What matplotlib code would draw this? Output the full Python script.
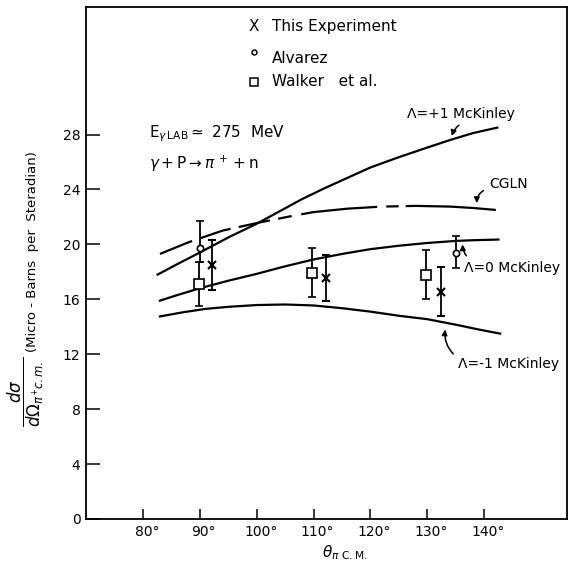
import matplotlib
matplotlib.use("Agg")
from matplotlib import pyplot as plt
import matplotlib.transforms as mtransforms

# theory curves (angle in degrees c.m., cross section in microbarn/sr)
lam_p1_theta = [82.6, 86, 90, 95, 100, 104, 108, 112, 116, 120, 125, 130, 134, 138, 142.3]
lam_p1_sigma = [17.8, 18.55, 19.4, 20.5, 21.5, 22.4, 23.3, 24.1, 24.85, 25.6, 26.35, 27.05, 27.6, 28.1, 28.5]

cgln_theta = [83, 88, 94, 100, 106, 110, 116, 122, 128, 134, 138, 142.2]
cgln_sigma = [19.3, 20.15, 21.0, 21.55, 22.05, 22.35, 22.6, 22.75, 22.8, 22.75, 22.65, 22.5]

lam_0_theta = [83, 86, 90, 95, 100, 105, 110, 115, 120, 125, 130, 135, 138, 142.5]
lam_0_sigma = [15.9, 16.3, 16.8, 17.35, 17.85, 18.4, 18.9, 19.3, 19.65, 19.9, 20.1, 20.25, 20.3, 20.35]

lam_m1_theta = [83, 87, 91, 95, 100, 105, 110, 115, 120, 125, 130, 135, 139, 142.8]
lam_m1_sigma = [14.75, 15.05, 15.3, 15.45, 15.58, 15.62, 15.55, 15.35, 15.1, 14.8, 14.55, 14.15, 13.8, 13.5]

# measurements
exp_theta = [92.2, 112.2, 132.4]
exp_sigma = [18.5, 17.55, 16.55]
exp_err = [1.8, 1.65, 1.8]

alv_theta = [90.0, 135.0]
alv_sigma = [19.7, 19.4]
alv_err_lo = [1.0, 1.1]
alv_err_hi = [2.0, 1.2]

walk_theta = [89.8, 109.8, 129.8]
walk_sigma = [17.1, 17.95, 17.8]
walk_err = [1.6, 1.75, 1.8]

x_ticks = [80, 90, 100, 110, 120, 130, 140]
y_ticks = [0, 4, 8, 12, 16, 20, 24, 28]

plt.rcParams["font.family"] = "DejaVu Sans"
plt.rcParams["mathtext.fontset"] = "dejavusans"
plt.rcParams["lines.scale_dashes"] = False

fig = plt.figure(figsize=(5.68, 5.67), dpi=100)
ax = fig.add_axes([0.1514, 0.0847, 0.8463, 0.9033])

ax.plot(lam_p1_theta, lam_p1_sigma, color="black", lw=1.6)
ax.plot(cgln_theta, cgln_sigma, color="black", lw=1.6,
        ls=(0, (25, 6, 23, 6, 23, 6, 10, 7, 55, 6.5, 9, 5, 65)))
ax.plot(lam_0_theta, lam_0_sigma, color="black", lw=1.6)
ax.plot(lam_m1_theta, lam_m1_sigma, color="black", lw=1.6)

eb = dict(color="black", elinewidth=1.3, capsize=2.8, capthick=1.3, ls="none")
ax.errorbar(exp_theta, exp_sigma, yerr=exp_err, marker="x", ms=6, mew=1.5, **eb)
ax.errorbar(alv_theta, alv_sigma, yerr=[alv_err_lo, alv_err_hi], marker="o", ms=4.5,
            mfc="white", mew=1.2, **eb)
ax.errorbar(walk_theta, walk_sigma, yerr=walk_err, marker="s", ms=7, mfc="white",
            mew=1.2, **eb)

ax.set_xlim(70, 154.5)
ax.set_ylim(0, 37.3)
ax.set_xticks(x_ticks)
ax.set_xticklabels([f"{t}°" for t in x_ticks])
ax.set_yticks(y_ticks)
ax.tick_params(axis="x", direction="in", length=7, width=1.1, labelsize=10, pad=4)
ax.tick_params(axis="y", direction="in", length=10, width=1.1, labelsize=10, pad=4)
offset = mtransforms.ScaledTranslation(4 / 100, 0, fig.dpi_scale_trans)
for lbl in ax.get_xticklabels():
    lbl.set_transform(lbl.get_transform() + offset)
for sp in ax.spines.values():
    sp.set_linewidth(1.3)

# legend written as text
ax.text(99.55, 35.9, "X", fontsize=11, ha="center", va="center")
ax.text(102.7, 35.9, "This Experiment", fontsize=11, va="center")
ax.plot([99.55], [34.0], marker="o", ms=3.5, mfc="white", mec="black", mew=1.1)
ax.text(102.7, 33.5, "Alvarez", fontsize=11, va="center")
ax.plot([99.55], [31.85], marker="s", ms=6, mfc="white", mec="black", mew=1.1)
ax.text(102.7, 31.85, "Walker   et al.", fontsize=11, va="center")

ax.text(81.0, 27.8, r"E$_{\gamma\,\mathrm{LAB}}$$\simeq$ 275  MeV", fontsize=11, va="baseline")
ax.text(81.0, 25.5, r"$\gamma + \mathrm{P} \rightarrow \pi^{\,+} + \mathrm{n}$", fontsize=11,
        va="baseline")

arr = dict(arrowstyle="-|>", color="black", lw=1.1, mutation_scale=8)
ax.annotate("Λ=+1 McKinley", xy=(134.15, 27.7), xytext=(126.5, 29.5), fontsize=10,
            va="center", arrowprops=dict(connectionstyle="arc3,rad=0.4", relpos=(0.62, 0.0), **arr))
ax.annotate("CGLN", xy=(138.7, 22.8), xytext=(140.8, 24.4), fontsize=10,
            va="center", arrowprops=dict(connectionstyle="arc3,rad=0.4", relpos=(0.0, 0.2), **arr))
ax.annotate("Λ=0 McKinley", xy=(136.2, 20.2), xytext=(136.4, 18.3), fontsize=10,
            va="center", arrowprops=dict(connectionstyle="arc3,rad=-0.3", relpos=(0.1, 0.9), **arr))
ax.annotate("Λ=-1 McKinley", xy=(133.2, 14.0), xytext=(135.4, 11.3), fontsize=10,
            va="center", arrowprops=dict(connectionstyle="arc3,rad=-0.3", relpos=(0.0, 0.9), **arr))

fig.text(345 / 568, 1 - 553 / 567, r"$\theta_{\pi\ \mathrm{C.M.}}$", fontsize=11,
         ha="center", va="center")
fig.text(33 / 568, 1 - 252 / 567, "(Micro - Barns  per  Steradian)", fontsize=9.5,
         rotation=90, ha="center", va="center")
fig.text(26 / 568, 1 - 392 / 567, r"$\dfrac{d\sigma}{d\Omega_{\pi^{+} c.m.}}$", fontsize=12,
         rotation=90, ha="center", va="center")

fig.savefig("out.png", dpi=100)
